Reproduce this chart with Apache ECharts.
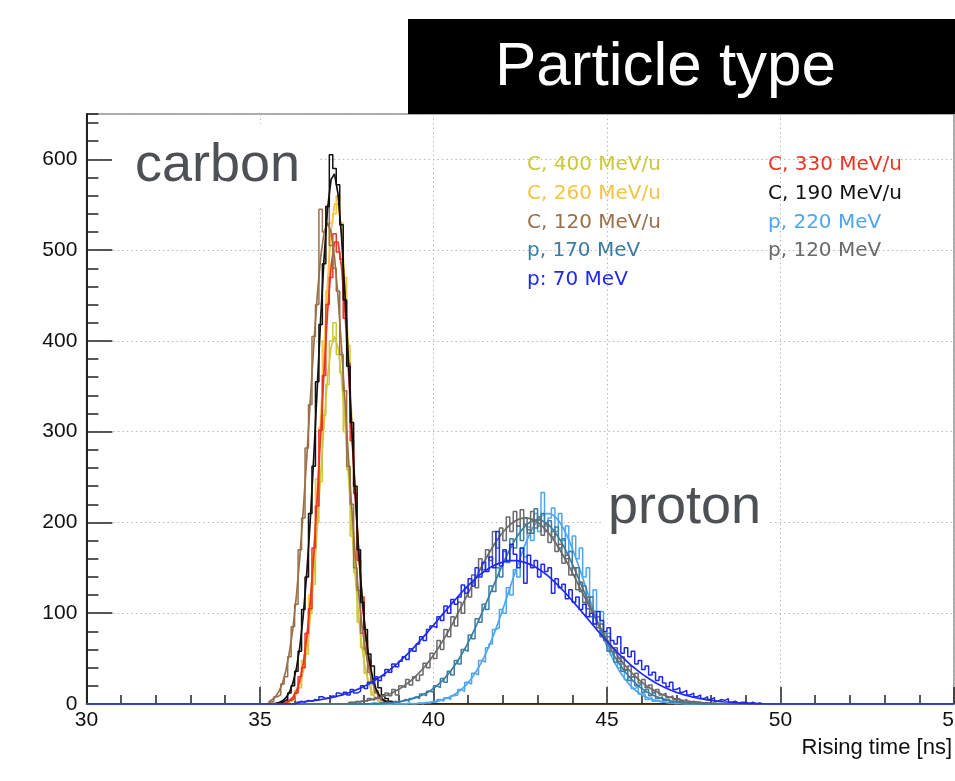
<!DOCTYPE html>
<html>
<head>
<meta charset="utf-8">
<script src="https://cdn.jsdelivr.net/npm/echarts@6/dist/echarts.min.js"></script>
<style>
html,body{margin:0;padding:0;background:#fff;overflow:hidden;width:955px;height:781px;}
#chart{width:955px;height:781px;}
</style>
</head>
<body>
<div id="chart"></div>
<script>
// ---------- axis ----------
const X_MIN = 30, X_MAX = 55, X_STEP = 5;
const Y_MIN = 0, Y_MAX = 650, Y_STEP = 100, Y_MINOR = 20;

// ---------- carbon histograms (bin left edges, ns; bin width 0.1) ----------
const CARBON_BINS = [35.2,35.3,35.4,35.5,35.6,35.7,35.8,35.9,36.0,36.1,36.2,36.3,36.4,36.5,36.6,36.7,36.8,36.9,37.0,37.1,37.2,37.3,37.4,37.5,37.6,37.7,37.8,37.9,38.0,38.1,38.2,38.3,38.4,38.5,38.6,38.7,38.8,38.9];

const C400_HIST = [0,0,0,0,0,1,3,4,12,18,40,55,100,132,200,245,318,352,400,420,385,365,300,258,185,145,90,62,34,22,10,6,3,1,0,0,0,0];
const C400_FIT  = [0,0,0.1,0.2,0.5,1.2,2.6,5.6,11,21,36,60,94,139,193,252,310,360,393,405,393,360,310,252,193,139,94,60,36,21,11,5.6,2.6,1.2,0.5,0.2,0.1,0];

const C330_HIST = [0,0,0,0,1,1,4,6,12,30,40,78,105,172,218,302,362,440,470,518,498,490,425,375,290,232,158,118,70,48,24,15,7,4,2,1,0,0];
const C330_FIT  = [0,0,0.1,0.3,0.8,1.7,3.7,7.5,14,26,45,73,112,163,226,296,368,432,482,509,509,482,432,368,296,226,163,112,73,45,26,14,7.5,3.7,1.7,0.8,0.3,0.1];

const C260_HIST = [0,0,0,0,1,2,4,5,15,22,48,68,120,160,248,305,400,455,530,540,560,530,470,395,305,240,160,118,70,45,26,12,8,3,2,1,0,0];
const C260_FIT  = [0,0,0.1,0.2,0.6,1.4,3.2,6.6,13,24,43,72,113,167,235,313,392,465,521,551,551,521,465,392,313,235,167,113,72,43,24,13,6.6,3.2,1.4,0.6,0.2,0.1];

const C190_HIST = [0,0,0,1,3,5,12,20,36,58,104,140,210,262,355,418,485,548,605,590,572,528,445,372,310,240,170,112,82,55,42,28,18,10,6,3,1,0];
const C190_FIT  = [0.1,0.4,0.8,1.7,3.5,6.9,12.9,23,39,63,98,144,202,271,347,424,492,546,578,584,562,516,452,378,301,229,166,115,76,48,29,16,9,4.7,2.3,1,0.5,0.2];

const C120_HIST = [2,3,8,10,22,30,52,85,110,170,205,282,330,405,440,545,520,548,505,480,455,385,345,262,220,150,125,78,60,35,25,12,9,4,3,1,1,0];
const C120_FIT  = [2.5,4.7,8,14,23,37,57,83,119,162,214,272,334,394,449,492,520,530,520,492,449,394,334,272,214,162,119,83,57,37,23,14,8,4.7,2.4,1.2,0.6,0.3];

// ---------- proton histograms (bin left edges, ns; bin width 0.1) ----------
const PROTON_BINS = [37.5,37.6,37.7,37.8,37.9,
 38.0,38.1,38.2,38.3,38.4,38.5,38.6,38.7,38.8,38.9,
 39.0,39.1,39.2,39.3,39.4,39.5,39.6,39.7,39.8,39.9,
 40.0,40.1,40.2,40.3,40.4,40.5,40.6,40.7,40.8,40.9,
 41.0,41.1,41.2,41.3,41.4,41.5,41.6,41.7,41.8,41.9,
 42.0,42.1,42.2,42.3,42.4,42.5,42.6,42.7,42.8,42.9,
 43.0,43.1,43.2,43.3,43.4,43.5,43.6,43.7,43.8,43.9,
 44.0,44.1,44.2,44.3,44.4,44.5,44.6,44.7,44.8,44.9,
 45.0,45.1,45.2,45.3,45.4,45.5,45.6,45.7,45.8,45.9,
 46.0,46.1,46.2,46.3,46.4,46.5,46.6,46.7,46.8,46.9,
 47.0,47.1,47.2,47.3,47.4,47.5,47.6,47.7,47.8,47.9,
 48.0,48.1,48.2,48.3,48.4,48.5,48.6,48.7,48.8,48.9,
 49.0,49.1,49.2,49.3,49.4];

// the 70 MeV proton histogram starts earlier
const P70_BINS = [36.0,36.1,36.2,36.3,36.4,36.5,36.6,36.7,36.8,36.9,
 37.0,37.1,37.2,37.3,37.4,37.5,37.6,37.7,37.8,37.9,
 38.0,38.1,38.2,38.3,38.4,38.5,38.6,38.7,38.8,38.9,
 39.0,39.1,39.2,39.3,39.4,39.5,39.6,39.7,39.8,39.9,
 40.0,40.1,40.2,40.3,40.4,40.5,40.6,40.7,40.8,40.9,
 41.0,41.1,41.2,41.3,41.4,41.5,41.6,41.7,41.8,41.9,
 42.0,42.1,42.2,42.3,42.4,42.5,42.6,42.7,42.8,42.9,
 43.0,43.1,43.2,43.3,43.4,43.5,43.6,43.7,43.8,43.9,
 44.0,44.1,44.2,44.3,44.4,44.5,44.6,44.7,44.8,44.9,
 45.0,45.1,45.2,45.3,45.4,45.5,45.6,45.7,45.8,45.9,
 46.0,46.1,46.2,46.3,46.4,46.5,46.6,46.7,46.8,46.9,
 47.0,47.1,47.2,47.3,47.4,47.5,47.6,47.7,47.8,47.9,
 48.0,48.1,48.2,48.3,48.4,48.5,48.6,48.7,48.8,48.9,
 49.0,49.1,49.2,49.3,49.4];

const P220_HIST = [0,0,0,0,0,
 0,0,0,0,0,0,0,0,0,0,
 0,0,1,0,0,1,0,2,1,3,
 2,5,3,7,5,9,10,16,14,24,
 22,34,32,48,46,62,66,82,84,104,
 100,128,120,148,140,172,162,195,180,210,
 190,233,196,205,216,190,210,180,196,168,
 185,160,172,140,150,118,126,96,102,74,
 78,54,60,40,44,27,30,17,19,11,
 11,5,7,3,4,2,2,1,1,0,
 1,0,0,0,0,0,0,0,0,0,
 0,0,0,0,0,0,0,0,0,0,
 0,0,0,0,0];
const P220_FIT = [0,0,0,0,0,
 0,0,0,0,0,0,0,0,0,0.1,
 0.1,0.2,0.2,0.3,0.5,0.6,0.9,1.2,1.5,2.0,
 2.7,3.5,4.5,5.8,7.3,9.2,11.5,14.3,17.6,21.4,
 25.9,31.1,37.0,43.6,51.1,59.2,68.2,77.8,88.1,98.9,
 110.1,121.6,133.2,144.6,155.8,166.4,176.4,185.3,193.1,199.6,
 204.6,208.0,209.8,209.8,208.0,204.6,199.6,193.1,185.3,176.4,
 166.4,155.8,144.6,133.2,121.6,110.1,98.9,88.1,77.8,68.2,
 59.2,51.1,43.6,37.0,31.1,25.9,21.4,17.6,14.3,11.5,
 9.2,7.3,5.8,4.5,3.5,2.7,2.0,1.5,1.2,0.9,
 0.6,0.5,0.3,0.2,0.2,0.1,0.1,0,0,0,
 0,0,0,0,0,0,0,0,0,0,
 0,0,0,0,0];

const P170_HIST = [0,0,0,0,0,
 0,0,1,0,1,1,2,1,3,2,
 3,5,3,6,8,6,11,9,14,13,
 20,18,28,24,36,32,48,44,60,58,
 76,72,94,90,110,104,130,124,150,140,
 168,156,182,172,196,180,205,192,188,215,
 196,210,190,202,184,195,172,182,160,168,
 142,150,124,130,105,118,88,96,74,78,
 58,62,46,50,36,38,26,30,20,22,
 13,16,9,12,6,8,4,5,2,3,
 2,1,2,0,1,1,0,0,0,0,
 0,0,0,0,0,0,0,0,0,0,
 0,0,0,0,0];
const P170_FIT = [0,0.1,0.1,0.1,0.2,
 0.2,0.3,0.4,0.5,0.7,0.9,1.1,1.4,1.8,2.3,
 2.8,3.5,4.3,5.3,6.4,7.8,9.3,11.2,13.3,15.8,
 18.6,21.9,25.5,29.6,34.1,39.1,44.6,50.6,57.1,64.1,
 71.5,79.4,87.6,96.2,105.0,114.0,123.1,132.2,141.2,150.0,
 158.5,166.5,174.0,180.8,186.8,192.0,196.3,199.5,201.7,202.9,
 202.9,201.7,199.5,196.3,192.0,186.8,180.8,174.0,166.5,158.5,
 150.0,141.2,132.2,123.1,114.0,105.0,96.2,87.6,79.4,71.5,
 64.1,57.1,50.6,44.6,39.1,34.1,29.6,25.5,21.9,18.6,
 15.8,13.3,11.2,9.3,7.8,6.4,5.3,4.3,3.5,2.8,
 2.3,1.8,1.4,1.1,0.9,0.7,0.5,0.4,0.3,0.2,
 0.2,0.1,0.1,0.1,0,0,0,0,0,0,
 0,0,0,0,0];

const P120_HIST = [2,1,3,2,4,
 3,6,4,7,5,9,12,9,16,10,
 20,18,27,21,30,26,32,45,40,56,
 50,70,60,82,74,96,86,112,100,128,
 118,142,128,160,148,170,158,190,172,194,
 180,206,190,212,196,214,198,188,212,194,
 206,186,198,178,190,168,176,155,164,142,
 150,126,134,112,118,96,102,84,88,70,
 74,58,62,47,52,38,42,30,34,23,
 27,18,21,13,16,10,12,7,9,5,
 6,3,5,2,3,2,2,1,1,0,
 1,0,0,0,0,0,0,0,0,0,
 0,0,0,0,0];
const P120_FIT = [1.4,1.8,2.1,2.5,3.1,
 3.6,4.3,5.1,6.0,7.1,8.3,9.7,11.3,13.1,15.1,
 17.4,19.9,22.7,25.8,29.1,32.9,36.9,41.3,46.0,51.1,
 56.6,62.3,68.4,74.8,81.5,88.5,95.7,103.1,110.6,118.2,
 125.8,133.5,141.1,148.6,155.9,162.8,169.4,175.7,181.5,186.7,
 191.4,195.5,198.9,201.5,203.4,204.6,205,204.6,203.4,201.5,
 198.9,195.5,191.4,186.7,181.5,175.7,169.4,162.8,155.9,148.6,
 141.1,133.5,125.8,118.2,110.6,103.1,95.7,88.5,81.5,74.8,
 68.4,62.3,56.6,51.1,46.0,41.3,36.9,32.9,29.1,25.8,
 22.7,19.9,17.4,15.1,13.1,11.3,9.7,8.3,7.1,6.0,
 5.1,4.3,3.6,3.1,2.5,2.1,1.8,1.4,1.2,1.0,
 0.8,0.6,0.5,0.4,0.3,0.2,0.2,0.1,0.1,0.1,
 0.1,0,0,0,0];

const P70_HIST = [1,3,2,4,3,5,4,8,6,7,
 9,8,12,10,13,
 10,16,12,14,20,
 17,24,22,30,26,31,38,35,44,41,
 47,52,49,61,58,66,74,70,82,86,
 84,96,92,108,100,115,110,118,131,122,
 138,130,150,140,156,146,162,150,190,152,
 170,158,176,165,150,172,133,164,150,158,
 140,154,146,150,122,138,128,132,116,126,
 112,118,104,110,96,100,88,102,92,80,
 84,70,66,74,56,62,52,58,44,48,
 38,42,32,35,26,30,23,19,24,16,
 18,13,15,10,12,8,10,6,8,5,
 7,3,5,4,6,2,3,1,2,2,
 0,2,0,1,0];
const P70_FIT = [1.9,2.2,2.5,2.9,3.3,3.7,4.2,4.8,5.5,6.2,
 6.9,7.8,8.8,9.8,11.0,
 12.2,13.6,15.1,16.7,18.5,
 20.4,22.4,24.6,26.9,29.4,32.1,34.9,37.9,41.0,44.3,
 47.7,51.3,55.0,58.9,62.9,67.1,71.3,75.6,80.0,84.5,
 89.0,93.6,98.2,102.7,107.2,111.7,116.0,120.4,124.5,128.5,
 132.4,136.0,139.4,142.7,145.6,148.2,150.6,152.7,154.4,155.8,
 156.9,157.6,158,158,157.6,156.9,155.8,154.4,152.7,150.6,
 148.2,145.6,142.7,139.4,136.0,132.4,128.5,124.5,120.4,116.0,
 111.7,107.2,102.7,98.2,93.6,89.0,84.5,80.0,75.6,71.3,
 67.1,62.9,58.9,55.0,51.3,47.7,44.3,41.0,37.9,34.9,
 32.1,29.4,26.9,24.6,22.4,20.4,18.5,16.7,15.1,13.6,
 12.2,11.0,9.8,8.8,7.8,6.9,6.2,5.5,4.8,4.2,
 3.7,3.3,2.9,2.5,2.2,1.9,1.6,1.4,1.2,1.0,
 0.9,0.7,0.6,0.5,0.4];

// ---------- labels / colours ----------
const LEGEND_COL1 = ['C, 400 MeV/u','C, 260 MeV/u','C, 120 MeV/u','p, 170 MeV','p: 70 MeV'];
const LEGEND_COL2 = ['C, 330 MeV/u','C, 190 MeV/u','p, 220 MeV','p, 120 MeV'];
const COLORS = {
  'C, 400 MeV/u':'#cbc83a','C, 260 MeV/u':'#f6c443','C, 120 MeV/u':'#9a7049',
  'p, 170 MeV':'#3b7da2','p: 70 MeV':'#1f2af0','C, 330 MeV/u':'#ea3524',
  'C, 190 MeV/u':'#111111','p, 220 MeV':'#4ea6f2','p, 120 MeV':'#6a6a6a'
};
const BIN_WIDTH = 0.1;

// draw order (last on top)
const DATASETS = [
  {name:'C, 400 MeV/u', bins:CARBON_BINS, hist:C400_HIST, fit:C400_FIT},
  {name:'C, 260 MeV/u', bins:CARBON_BINS, hist:C260_HIST, fit:C260_FIT},
  {name:'C, 330 MeV/u', bins:CARBON_BINS, hist:C330_HIST, fit:C330_FIT},
  {name:'C, 120 MeV/u', bins:CARBON_BINS, hist:C120_HIST, fit:C120_FIT},
  {name:'C, 190 MeV/u', bins:CARBON_BINS, hist:C190_HIST, fit:C190_FIT},
  {name:'p, 220 MeV',   bins:PROTON_BINS, hist:P220_HIST, fit:P220_FIT},
  {name:'p, 170 MeV',   bins:PROTON_BINS, hist:P170_HIST, fit:P170_FIT},
  {name:'p, 120 MeV',   bins:PROTON_BINS, hist:P120_HIST, fit:P120_FIT},
  {name:'p: 70 MeV',    bins:P70_BINS,    hist:P70_HIST,  fit:P70_FIT}
];

function histData(bins, vals){
  const d = [[X_MIN, 0]];
  bins.forEach((b,i)=>d.push([b, vals[i]]));
  d.push([+(bins[bins.length-1] + BIN_WIDTH).toFixed(3), 0]);
  d.push([X_MAX, 0]);
  return d;
}
function fitData(bins, vals){
  return bins.map((b,i)=>[+(b + BIN_WIDTH/2).toFixed(3), vals[i]]);
}

const series = [];
DATASETS.forEach((ds, k)=>{
  const c = COLORS[ds.name];
  series.push({
    type:'line', name:ds.name, step:'end', symbol:'none', silent:true,
    data: histData(ds.bins, ds.hist),
    lineStyle:{color:c, width:1.5}, itemStyle:{color:c}, z: 2 + k*0.01
  });
  series.push({
    type:'line', name:ds.name, symbol:'none', silent:true, smooth:false,
    data: fitData(ds.bins, ds.fit),
    lineStyle:{color:c, width:1.7}, itemStyle:{color:c}, z: 2 + k*0.01 + 0.005
  });
});

const FONT = 'Liberation Sans, Helvetica, Arial, sans-serif';

function legendFor(names, left){
  return {
    orient:'vertical', left:left, top:155, padding:0,
    itemWidth:0, itemHeight:20, itemGap:8.75, icon:'none',
    selectedMode:false,
    itemStyle:{opacity:0}, lineStyle:{opacity:0},
    textStyle:{fontFamily:'DejaVu Sans, sans-serif', fontSize:20, lineHeight:20},
    data: names.map(n=>({name:n, icon:'none', textStyle:{color:COLORS[n]}}))
  };
}

const chart = echarts.init(document.getElementById('chart'), null, {renderer:'canvas', width:955, height:781});
chart.setOption({
  animation:false,
  backgroundColor:'#ffffff',
  grid:{left:86.4, right:1, top:114, bottom:77, containLabel:false, outerBoundsMode:'none',
        show:true, borderColor:'#555', borderWidth:1},
  legend:[legendFor(LEGEND_COL1, 522), legendFor(LEGEND_COL2, 763)],
  xAxis:{
    type:'value', min:X_MIN, max:X_MAX, interval:X_STEP,
    name:'Rising time [ns]', nameLocation:'end', nameGap:-2,
    nameTextStyle:{fontFamily:FONT, fontSize:22, color:'#111', align:'right', verticalAlign:'top', padding:[33,0,0,0]},
    axisLine:{show:true, lineStyle:{color:'#222', width:1.5}},
    axisTick:{show:true, inside:true, length:17, lineStyle:{color:'#222', width:1.5}},
    minorTick:{show:true, splitNumber:5, length:9, lineStyle:{color:'#222', width:1.5}},
    axisLabel:{show:true, margin:6, fontFamily:FONT, fontSize:21, color:'#111'},
    splitLine:{show:true, lineStyle:{color:'#b8b8b8', width:1, type:[1.5,3]}}
  },
  yAxis:[{
    type:'value', min:Y_MIN, max:Y_MAX, interval:Y_STEP, position:'left',
    axisLine:{show:true, lineStyle:{color:'#222', width:2}},
    axisTick:{show:true, inside:true, length:26, lineStyle:{color:'#222', width:1.5}},
    axisLabel:{show:true, margin:9, fontFamily:FONT, fontSize:21, color:'#111', showMaxLabel:false},
    splitLine:{show:true, lineStyle:{color:'#b8b8b8', width:1, type:[1.5,3]}}
  },{
    type:'value', min:Y_MIN, max:Y_MAX, interval:Y_MINOR, position:'left',
    axisLine:{show:false},
    axisTick:{show:true, inside:true, length:12, lineStyle:{color:'#222', width:1.5}},
    axisLabel:{show:false}, splitLine:{show:false}
  }],
  graphic:[
    {type:'rect', z:1, silent:true, shape:{x:112, y:124, width:206, height:84}, style:{fill:'#ffffff'}},
    {type:'text', z:5, silent:true, x:135, y:166, style:{text:'carbon', font:'54px '+FONT, fill:'#4d5156', align:'left', verticalAlign:'middle'}},
    {type:'rect', z:1, silent:true, shape:{x:603, y:488, width:165, height:50}, style:{fill:'#ffffff'}},
    {type:'text', z:5, silent:true, x:608, y:508, style:{text:'proton', font:'54px '+FONT, fill:'#4d5156', align:'left', verticalAlign:'middle'}},
    {type:'rect', z:10, silent:true, shape:{x:408, y:19, width:547, height:95}, style:{fill:'#000000'}},
    {type:'text', z:11, silent:true, x:665.5, y:68, style:{text:'Particle type', font:'62px '+FONT, fill:'#ffffff', align:'center', verticalAlign:'middle'}}
  ],
  series: series
});
</script>
</body>
</html>
